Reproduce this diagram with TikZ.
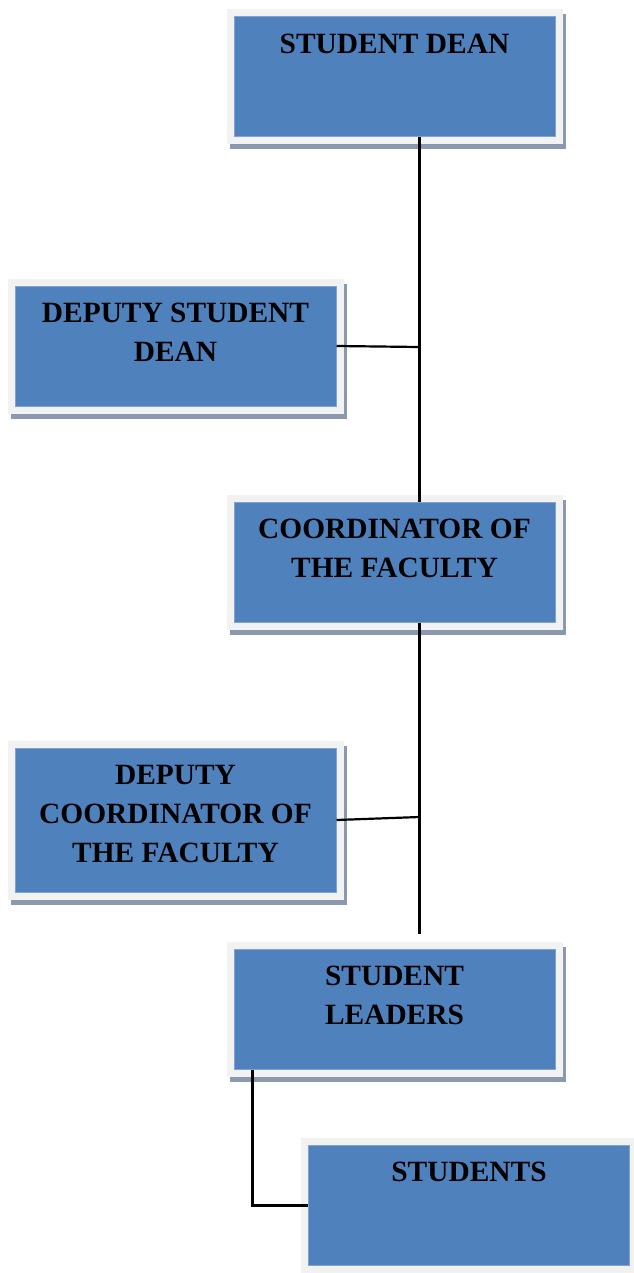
\documentclass[tikz,border=0pt]{standalone}
\usepackage{fontspec}
\setmainfont{Liberation Serif}
\usepackage{tikz}
\usepackage{xcolor}
\definecolor{boxblue}{RGB}{79,129,189}
\definecolor{boxedge}{RGB}{128,163,212}
\definecolor{framegrey}{RGB}{242,242,242}
\definecolor{shadowgrey}{RGB}{138,152,176}

\begin{document}
\begin{tikzpicture}[x=0.5pt,y=-0.5pt,
    orgbox/.style={rectangle, draw=boxedge, line width=0.5pt, fill=boxblue,
        minimum width=160.5pt, minimum height=60pt, inner sep=0pt,
        preaction={draw=shadowgrey, fill=shadowgrey, line width=7.5pt,
            transform canvas={shift={(1.5pt,-2.5pt)}}},
        preaction={draw=framegrey, line width=7.5pt}},
    boxtext/.style={anchor=north, align=center, inner sep=0pt, yshift=-8.5pt,
        font=\fontsize{14.7}{19.5}\selectfont\bfseries},
    link/.style={black, line width=1.1pt}]
                \useasboundingbox (0,0) rectangle (633,1273);
                \node[orgbox, label={[boxtext]north:STUDENT DEAN}] (dean) at (394.5,77) {};
                \node[orgbox, label={[boxtext]north:{DEPUTY STUDENT\\DEAN}}] (deputydean) at (175.5,346) {};
                \node[orgbox, label={[boxtext]north:{COORDINATOR OF\\THE FACULTY}}] (coord) at (394.5,562.5) {};
                \node[orgbox, minimum height=72pt, label={[boxtext]north:{DEPUTY\\COORDINATOR OF\\THE FACULTY}}] (deputycoord) at (175.5,820) {};
                \node[orgbox, label={[boxtext]north:{STUDENT\\LEADERS}}] (leaders) at (394.5,1009) {};
                \node[orgbox, label={[boxtext]north:STUDENTS}] (students) at (469,1205.5) {};
                \coordinate (deanjoin) at (419.5,347);
                \coordinate (coordjoin) at (419.5,817);
                \coordinate (leadersend) at (419.5,934);
                \draw[link] (dean.south -| deanjoin) -- (coord.north -| deanjoin);
                \draw[link] (deputydean.east) -- (deanjoin);
                \draw[link] (coord.south -| coordjoin) -- (leadersend);
                \draw[link] (deputycoord.east) -- (coordjoin);
                \draw[link] ([xshift=9.5pt]leaders.south west) |- (students.west);
            \end{tikzpicture}
\end{document}
